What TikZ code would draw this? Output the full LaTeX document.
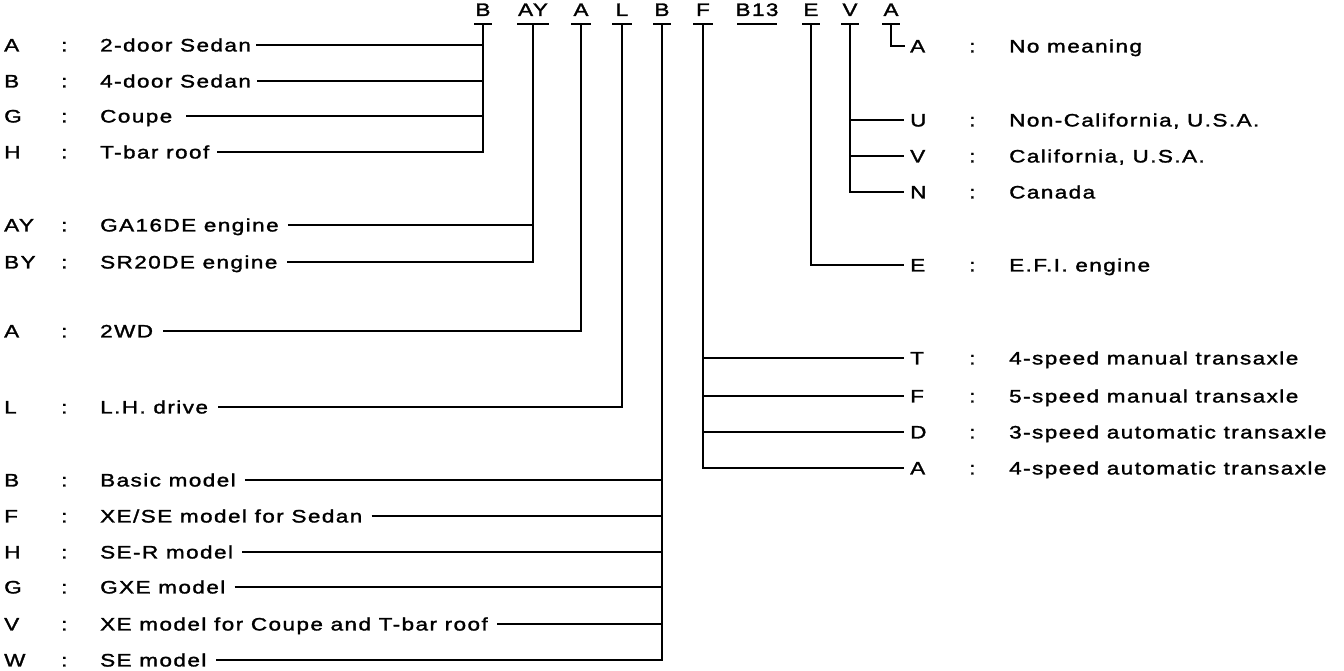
\documentclass[tikz,border=0pt]{standalone}
\usepackage{fontspec}
\setmainfont{Liberation Sans}[FakeStretch=1.25, LetterSpace=8, FakeBold=1.6]
\begin{document}
\begin{tikzpicture}[x=1pt,y=-1pt,
  lab/.style={inner sep=0pt, text height=12.9pt, text depth=0pt, anchor=west, font=\fontsize{18}{20}\selectfont},
  hdr/.style={inner sep=0pt, text height=12.9pt, text depth=0pt, anchor=center, font=\fontsize{18}{20}\selectfont},
  ln/.style={line width=2.3pt}]
\useasboundingbox (0,0) rectangle (1344,670);
% header
\foreach \n/\x/\t in {1/483/B,2/533/AY,3/581/A,4/622/L,5/662/B,6/703/F,7/757/B13,8/811/E,9/850/V,10/891/A}{
  \node[hdr] (h\n) at (\x,9.5) {\t};
  \coordinate (b\n) at (\x,24);
}
\foreach \n/\w in {1/9,2/16,3/10,4/10,5/9,6/10,7/20,8/9,9/9,10/9}{
  \draw[ln] ([xshift=-\w pt]b\n) -- ([xshift=\w pt]b\n);
}
% left rows
\foreach \n/\y/\k/\d in {1/45/A/2-door Sedan,2/81/B/4-door Sedan,3/116/G/Coupe,4/152/H/T-bar roof,
  5/225/AY/GA16DE engine,6/262/BY/SR20DE engine,7/331/A/2WD,8/407/L/L.H. drive,
  9/480/B/Basic model,10/516/F/{XE/SE model for Sedan},11/552/H/SE-R model,12/587/G/GXE model,
  13/624/V/XE model for Coupe and T-bar roof,14/660/W/SE model}{
  \node[lab] (kL\n) at (4,\y) {\k};
  \node[lab] (cL\n) at (61,\y) {:};
  \node[lab] (dL\n) at (100,\y) {\d};
}
% right rows
\foreach \n/\y/\k/\d in {1/46/A/No meaning,2/120/U/{Non-California, U.S.A.},3/156/V/{California, U.S.A.},4/192/N/Canada,
  5/265/E/E.F.I. engine,6/358/T/4-speed manual transaxle,7/396/F/5-speed manual transaxle,
  8/432/D/3-speed automatic transaxle,9/468/A/4-speed automatic transaxle}{
  \node[lab] (kR\n) at (910,\y) {\k};
  \node[lab] (cR\n) at (969,\y) {:};
  \node[lab] (dR\n) at (1009,\y) {\d};
}
% connectors, left
\draw[ln] (b1) |- ([xshift=8pt]dL4.east);
\foreach \n/\g in {1/5,2/6,3/14}{\draw[ln] ([xshift=\g pt]dL\n.east) -- (dL\n.east -| b1);}
\draw[ln] (b2) |- ([xshift=9pt]dL6.east);
\draw[ln] ([xshift=9pt]dL5.east) -- (dL5.east -| b2);
\draw[ln] (b3) |- ([xshift=10pt]dL7.east);
\draw[ln] (b4) |- ([xshift=10pt]dL8.east);
\draw[ln] (b5) |- ([xshift=9pt]dL14.east);
\foreach \n in {9,10,11,12,13}{\draw[ln] ([xshift=9pt]dL\n.east) -- (dL\n.east -| b5);}
% connectors, right
\draw[ln] (b10) |- ([xshift=-5pt]kR1.west);
\draw[ln] (b9) |- ([xshift=-6pt]kR4.west);
\foreach \n in {2,3}{\draw[ln] (kR\n.west -| b9) -- ([xshift=-6pt]kR\n.west);}
\draw[ln] (b8) |- ([xshift=-6pt]kR5.west);
\draw[ln] (b6) |- ([xshift=-6pt]kR9.west);
\foreach \n in {6,7,8}{\draw[ln] (kR\n.west -| b6) -- ([xshift=-6pt]kR\n.west);}
\end{tikzpicture}
\end{document}
